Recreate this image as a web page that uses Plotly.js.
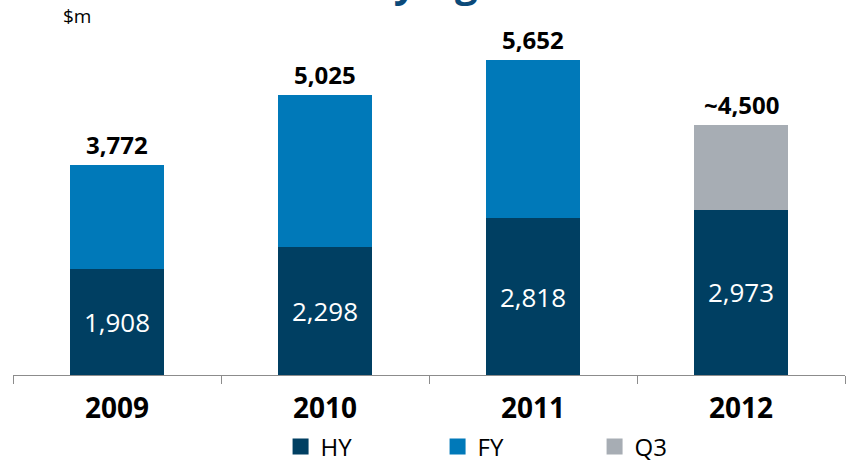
<!DOCTYPE html>
<html><head><meta charset="utf-8">
<script src="https://cdn.plot.ly/plotly-3.0.1.min.js"></script>
<style>html,body{margin:0;padding:0;background:#fff;}#chart{width:848px;height:462px;}</style>
</head><body><div id="chart"></div>
<script>
const years = ['2009', '2010', '2011', '2012'];
const hy = [1908, 2298, 2818, 2973];
const fy = [1864, 2727, 2834, null];
const q3 = [null, null, null, 1527];
const totals = [3772, 5025, 5652, 4500];
const totalLabels = ['3,772', '5,025', '5,652', '~4,500'];
const seriesNames = ['HY', 'FY', 'Q3'];
const seriesColors = ['#003f62', '#0079b9', '#a7adb4'];

const FONT = '"Open Sans", "Noto Sans", sans-serif';

const traces = [
  {type: 'bar', name: seriesNames[0], x: years, y: hy, marker: {color: seriesColors[0]},
   texttemplate: '%{y:,}', textposition: 'inside', insidetextanchor: 'middle',
   textfont: {color: '#ffffff', size: 26, family: FONT}, hoverinfo: 'none', showlegend: false},
  {type: 'bar', name: seriesNames[1], x: years, y: fy, marker: {color: seriesColors[1]},
   textposition: 'none', hoverinfo: 'none', showlegend: false},
  {type: 'bar', name: seriesNames[2], x: years, y: q3, marker: {color: seriesColors[2]},
   textposition: 'none', hoverinfo: 'none', showlegend: false}
];
// legend-only entries with larger square swatches
seriesNames.forEach((n, i) => traces.push({
  type: 'scatter', mode: 'markers', name: n, x: [null], y: [null],
  marker: {symbol: 'square', size: 16, color: seriesColors[i]}, hoverinfo: 'none'
}));

const annotations = years.map((yr, i) => ({
  x: i, y: totals[i], xref: 'x', yref: 'y', text: totalLabels[i],
  showarrow: false, yanchor: 'bottom', yshift: 2,
  font: {family: FONT, size: 24, color: '#000', weight: 'bold'}
}));
annotations.push({
  xref: 'paper', yref: 'paper', x: 0.058, y: 1, yshift: 10, xanchor: 'left', yanchor: 'bottom',
  text: '$m', showarrow: false, font: {family: FONT, size: 19, color: '#000'}
});
annotations.push({
  xref: 'paper', yref: 'paper', x: 0.5, y: 1, yshift: 30, xanchor: 'center', yanchor: 'bottom',
  text: 'Underlying Profit', showarrow: false,
  font: {family: FONT, size: 40, color: '#0b4a7a', weight: 'bold'}
});

const layout = {
  width: 848, height: 462,
  margin: {l: 13, r: 3, t: 41, b: 87, autoexpand: false},
  paper_bgcolor: '#fff', plot_bgcolor: '#fff',
  barmode: 'stack', bargap: 0.55,
  showlegend: true,
  legend: {orientation: 'h', x: 0.3216, xanchor: 'left', y: -0.215, yanchor: 'middle',
    font: {family: FONT, size: 24, color: '#000'}, traceorder: 'normal',
    entrywidth: 112, entrywidthmode: 'pixels', itemsizing: 'trace', tracegroupgap: 0},
  xaxis: {type: 'category', range: [-0.5, 3.5], showline: true, linecolor: '#8c8c8c', linewidth: 1,
    ticks: 'outside', tickson: 'boundaries', ticklen: 8, tickcolor: '#8c8c8c',
    ticklabelstandoff: 8,
    tickfont: {family: FONT, size: 28, color: '#000', weight: 'bold'},
    showgrid: false, zeroline: false, fixedrange: true},
  yaxis: {range: [0, 6000], visible: false, showgrid: false, zeroline: false, fixedrange: true},
  annotations: annotations
};

Plotly.newPlot('chart', traces, layout, {displayModeBar: false, staticPlot: true});
</script></body></html>
